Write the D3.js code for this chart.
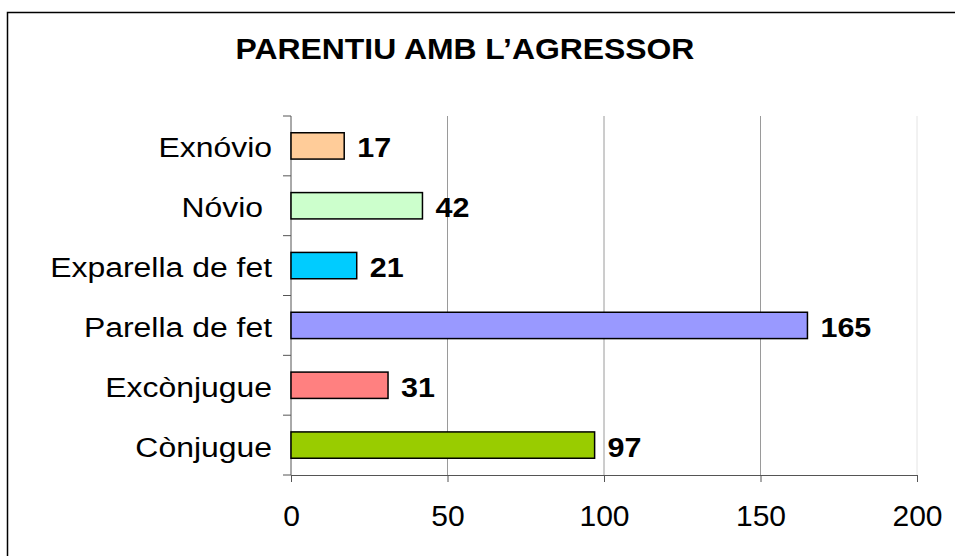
<!DOCTYPE html>
<head>
<meta charset="utf-8">
<script src="https://d3js.org/d3.v7.min.js"></script>
<style>
body { margin: 0; background: #fff; }
svg { display: block; font-family: "Liberation Sans", Arial, sans-serif; }
.axis path, .axis line { stroke: #555; }
.axis text { fill: #000; }
</style>
</head>
<body>
<svg width="955" height="556"></svg>
<script>
// data, top to bottom
var categories = ["Exnóvio", "Nóvio ", "Exparella de fet", "Parella de fet", "Excònjugue", "Cònjugue"];
var values = [17, 42, 21, 165, 31, 97];
var colors = ["#FFCC99", "#CCFFCC", "#00CCFF", "#9999FF", "#FF8080", "#99CC00"];
var xTicks = [0, 50, 100, 150, 200];
var title = "PARENTIU AMB L’AGRESSOR";

var svg = d3.select("svg");
var margin = {top: 116, right: 38, bottom: 81, left: 291};
var width = 955, height = 556;

// outer frame (only left/top visible)
svg.append("rect")
  .attr("x", 7.5).attr("y", 12.5)
  .attr("width", 1000).attr("height", 1000)
  .attr("fill", "none").attr("stroke", "#000").attr("stroke-width", 1.5);

svg.append("text")
  .attr("transform", "translate(465,59) scale(1.1,1)")
  .attr("text-anchor", "middle")
  .style("font-size", "29px").style("font-weight", "bold")
  .text(title);

var x = d3.scaleLinear().domain([0, 200]).range([margin.left, width - margin.right]);
var y = d3.scaleBand().domain(categories).range([margin.top, height - margin.bottom]).paddingInner(0.56).paddingOuter(0.28);
var yTicks = d3.scaleBand().domain(categories).range([margin.top, height - margin.bottom]);

// gridlines
svg.append("g").selectAll("line")
  .data(xTicks.slice(1))
  .join("line")
  .attr("x1", d => x(d)).attr("x2", d => x(d))
  .attr("y1", margin.top).attr("y2", height - margin.bottom)
  .attr("stroke", d => d == 200 ? "#e4e4e4" : "#9a9a9a")
  .attr("stroke-width", 1);

// x axis
var xa = svg.append("g")
  .attr("class", "axis")
  .attr("transform", "translate(0," + (height - margin.bottom) + ")")
  .call(d3.axisBottom(x).tickValues(xTicks).tickSize(7).tickSizeOuter(7).tickPadding(23));
xa.selectAll("text")
  .style("font-size", "30px")
  .attr("transform", "scale(1.05,1)")
  .attr("x", d => x(d) / 1.05 - x(d))
  .attr("dy", "0.71em");
xa.selectAll(".tick").each(function(d) {
  d3.select(this).select("text")
    .attr("x", 0)
    .attr("transform", null);
});

// y axis with ticks between categories
var bounds = d3.range(categories.length + 1).map(i => margin.top + i * yTicks.step());
var ya = svg.append("g").attr("class", "axis");
ya.append("line")
  .attr("x1", margin.left).attr("x2", margin.left)
  .attr("y1", margin.top).attr("y2", height - margin.bottom)
  .attr("stroke", "#555");
ya.selectAll(".tk").data(bounds).join("line")
  .attr("class", "tk")
  .attr("x1", margin.left - 8).attr("x2", margin.left)
  .attr("y1", d => d).attr("y2", d => d)
  .attr("stroke", "#555");

svg.append("g").selectAll("text")
  .data(categories)
  .join("text")
  .attr("transform", d => "translate(272," + (y(d) + y.bandwidth() / 2 + 11.5) + ") scale(1.14,1)")
  .attr("text-anchor", "end")
  .style("font-size", "28px")
  .style("white-space", "pre")
  .text(d => d);

// value labels
svg.append("g").selectAll("rect")
  .data(values)
  .join("rect")
  .attr("x", x(0))
  .attr("y", (d, i) => y(categories[i]))
  .attr("width", d => x(d) - x(0))
  .attr("height", y.bandwidth())
  .attr("fill", (d, i) => colors[i])
  .attr("stroke", "#000")
  .attr("stroke-width", 1.5);

svg.append("g").selectAll("text")
  .data(values)
  .join("text")
  .attr("transform", (d, i) => "translate(" + (x(d) + 13) + "," + (y(categories[i]) + y.bandwidth() / 2 + 11.5) + ") scale(1.09,1)")
  .style("font-size", "28px")
  .style("font-weight", "bold")
  .text(d => d);
</script>
</body>
